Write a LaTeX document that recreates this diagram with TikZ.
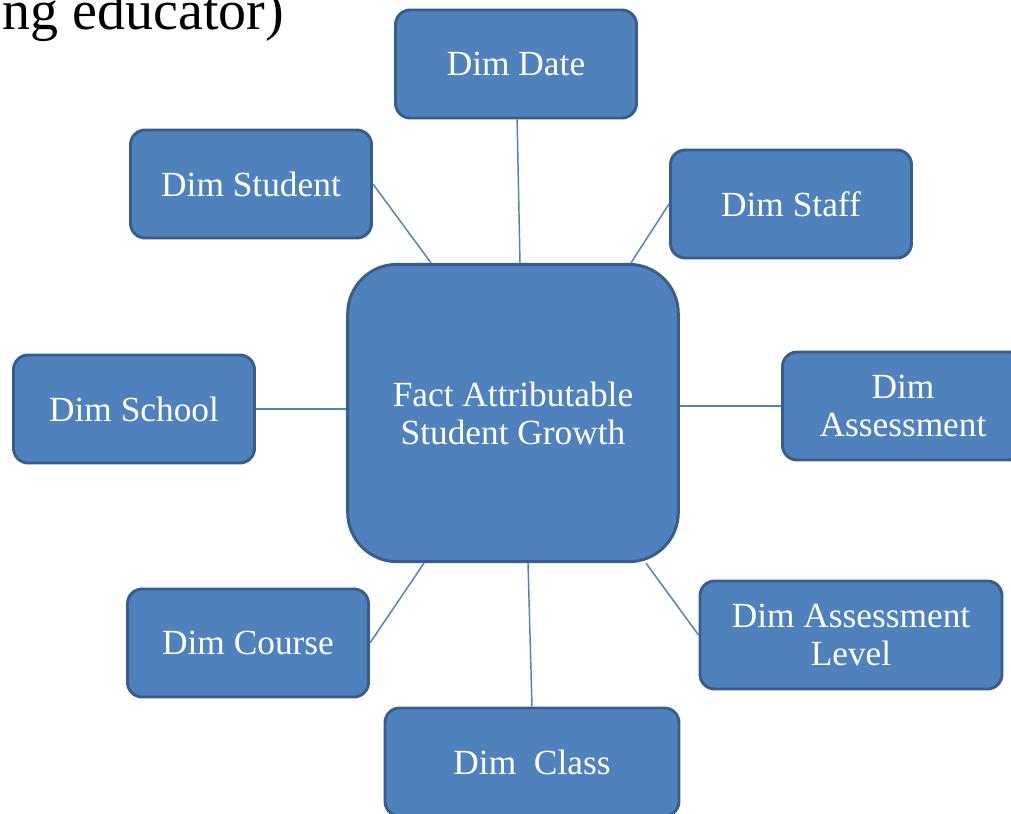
\documentclass[tikz,border=0pt]{standalone}
\usepackage{fontspec}
\setmainfont{Liberation Serif}
\usetikzlibrary{positioning}
\definecolor{boxblue}{HTML}{4F81BD}
\definecolor{boxedge}{HTML}{385D8A}

\begin{document}
\begin{tikzpicture}
    [
        x=0.75pt, y=-0.75pt,
        dim_node/.style={rectangle, rounded corners=11pt, draw=boxedge, fill=boxblue, line width=2.2pt, text=white, align=center, minimum width=180.75pt, minimum height=81pt, inner sep=0pt, font=\fontsize{26.5}{28.5}\selectfont},
        fact_node/.style={dim_node, rounded corners=37pt, minimum width=248pt, minimum height=223pt},
        link/.style={draw=boxblue, line width=1.1pt},
    ]
        \useasboundingbox (0,0) rectangle (1011,814);
        \node[anchor=base west, font=\fontsize{42}{46}\selectfont] (title) at (-2,29) {ng educator)};
        \node[fact_node] (fact) at (513,413) {Fact Attributable\\Student Growth};
        \node[dim_node] (date) at (516,64) {Dim Date};
        \node[dim_node] (student) at (251,184) {Dim Student};
        \node[dim_node] (staff) at (791,204) {Dim Staff};
        \node[dim_node] (school) at (134,409) {Dim School};
        \node[dim_node] (assessment) at (903,406) {Dim\\Assessment};
        \node[dim_node] (course) at (248,643) {Dim Course};
        \node[dim_node, minimum width=226.5pt] (level) at (851,635) {Dim Assessment\\Level};
        \node[dim_node, minimum width=220.5pt] (class) at (532,762) {Dim~~Class};
        \draw[link] (date) -- ([xshift=5.25pt]fact.north) ;
        \draw[link] (student.east) -- ([xshift=-61.5pt]fact.north) ;
        \draw[link] (staff.west) -- ([xshift=88.5pt]fact.north) ;
        \draw[link] (school.east) -- (school.east -| fact.west) ;
        \draw[link] (assessment.west) -- (assessment.west -| fact.east) ;
        \draw[link] (course.east) -- ([xshift=-66.75pt]fact.south) ;
        \draw[link] (level.west) -- ([xshift=99.75pt]fact.south) ;
        \draw[link] (class.north) -- ([xshift=11.25pt]fact.south) ;
\end{tikzpicture}
\end{document}
